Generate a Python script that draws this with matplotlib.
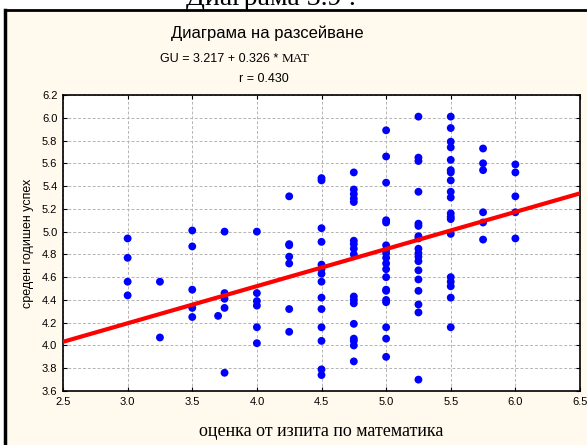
import numpy as np
import matplotlib.pyplot as plt
from matplotlib.lines import Line2D

# exam grade (MAT) levels and the average annual grade (GU) at each level
mat_levels = [3.0, 3.25, 3.5, 3.7, 3.75, 4.0, 4.25, 4.5, 4.75, 5.0, 5.25, 5.5, 5.75, 6.0]
gu_300 = [4.94, 4.77, 4.56, 4.44]
gu_325 = [4.56, 4.07]
gu_350 = [5.01, 4.87, 4.49, 4.33, 4.25]
gu_370 = [4.26]
gu_375 = [5.00, 4.46, 4.41, 4.33, 3.76]
gu_400 = [5.00, 4.46, 4.39, 4.35, 4.16, 4.02]
gu_425 = [5.31, 4.89, 4.88, 4.78, 4.72, 4.32, 4.12]
gu_450 = [5.47, 5.45, 5.03, 4.91, 4.71, 4.67, 4.63, 4.56, 4.42, 4.32, 4.16, 4.04, 3.79, 3.74]
gu_475 = [5.52, 5.37, 5.33, 5.29, 5.26, 4.92, 4.89, 4.85, 4.80, 4.43, 4.40, 4.37,
          4.19, 4.06, 4.04, 4.00, 3.86]
gu_500 = [5.89, 5.66, 5.43, 5.10, 5.08, 4.88, 4.84, 4.81, 4.77, 4.72, 4.67, 4.60,
          4.49, 4.48, 4.40, 4.38, 4.16, 4.06, 3.90]
gu_525 = [6.01, 5.65, 5.62, 5.35, 5.07, 5.05, 4.96, 4.94, 4.85, 4.81, 4.78, 4.74,
          4.66, 4.58, 4.48, 4.36, 4.29, 3.70]
gu_550 = [6.01, 5.91, 5.79, 5.74, 5.63, 5.54, 5.52, 5.45, 5.35, 5.30, 5.16, 5.13,
          5.11, 4.98, 4.60, 4.56, 4.52, 4.42, 4.16]
gu_575 = [5.73, 5.60, 5.54, 5.17, 5.08, 4.93]
gu_600 = [5.59, 5.52, 5.31, 5.17, 4.94]
gu_groups = [gu_300, gu_325, gu_350, gu_370, gu_375, gu_400, gu_425, gu_450,
             gu_475, gu_500, gu_525, gu_550, gu_575, gu_600]

intercept, slope = 3.217, 0.326
x_ticks = [2.5, 3.0, 3.5, 4.0, 4.5, 5.0, 5.5, 6.0, 6.5]
y_ticks = [3.6, 3.8, 4.0, 4.2, 4.4, 4.6, 4.8, 5.0, 5.2, 5.4, 5.6, 5.8, 6.0, 6.2]

mat = []
gu = []
for level, group in zip(mat_levels, gu_groups):
    mat += [level] * len(group)
    gu += group

W, H = 587, 445
fig = plt.figure(figsize=(W / 100, H / 100), dpi=100)
fig.patch.set_facecolor('white')

# cream panel with black frame (left and top edges visible)
panel = plt.Rectangle((5 / W, -0.05), 1.1, 1 - 10 / H + 0.05, transform=fig.transFigure,
                      facecolor='#fff9ee', edgecolor='none', zorder=-2)
fig.patches.append(panel)
fig.add_artist(Line2D([5 / W, 1.0], [1 - 10 / H, 1 - 10 / H], color='black', lw=2,
                      transform=fig.transFigure))
fig.add_artist(Line2D([5 / W, 5 / W], [0, 1 - 10 / H], color='black', lw=2.5,
                      transform=fig.transFigure))

# caption of the document, cut by the top edge as in the source page
fig.text(271 / W, 1 - 5 / H, 'Диаграма 3.9 :', family='Liberation Serif', fontsize=20,
         ha='center', va='baseline')

ax = fig.add_axes([63 / W, 1 - 391 / H, (580 - 63) / W, (391 - 95) / H])
ax.set_facecolor('white')

ax.grid(True, color='#b4b4b4', linestyle=(0, (3, 2)), linewidth=0.7)
ax.set_axisbelow(True)

ax.scatter(mat, gu, s=32, color='#0000ff', edgecolors='none', zorder=3)
xs = np.array([2.5, 6.5])
ax.plot(xs, intercept + slope * xs, color='#ff0000', lw=3, zorder=4, solid_capstyle='butt')

ax.set_xlim(2.5, 6.5)
ax.set_ylim(3.6, 6.2)
ax.set_xticks(x_ticks)
ax.set_yticks(y_ticks)
ax.set_xticklabels(['%.1f' % t for t in x_ticks], family='Liberation Sans', fontsize=8)
ax.set_yticklabels(['%.1f' % t for t in y_ticks], family='Liberation Sans', fontsize=8)
ax.tick_params(direction='in', length=3, width=0.8, top=True, right=True, pad=4)
for s in ax.spines.values():
    s.set_linewidth(1.2)

ax.set_ylabel('среден годишен успех', family='Liberation Sans', fontsize=9, labelpad=6)
ax.set_xlabel('оценка от изпита по математика', family='Liberation Serif', fontsize=13,
              labelpad=12)

fig.text(267 / W, 1 - 38 / H, 'Диаграма на разсейване', family='Liberation Sans',
         fontsize=12, ha='center', va='baseline')
fig.text(282 / W, 1 - 61.5 / H, 'GU = 3.217 + 0.326 * ', family='Liberation Sans',
         fontsize=9, ha='right', va='baseline')
fig.text(282 / W, 1 - 61.5 / H, 'MAT', family='Liberation Serif',
         fontsize=9.5, ha='left', va='baseline')
fig.text(264 / W, 1 - 82 / H, 'r = 0.430', family='Liberation Sans',
         fontsize=9, ha='center', va='baseline')

fig.savefig('out.png', dpi=100)
